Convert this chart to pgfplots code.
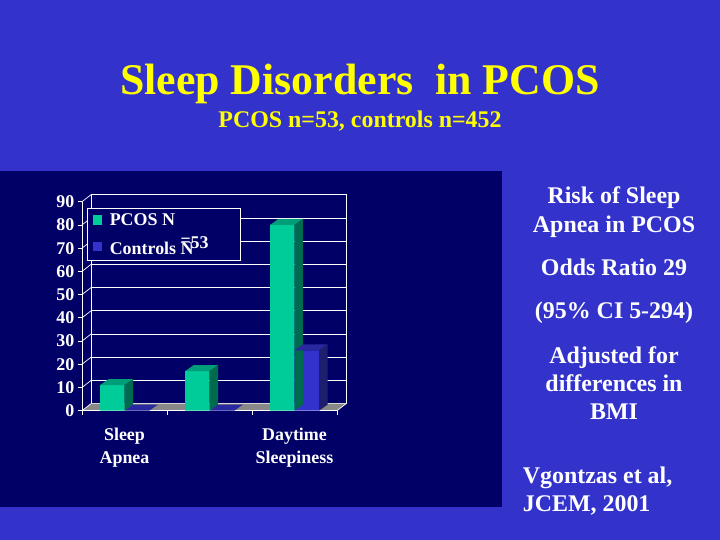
\documentclass[border=0pt]{standalone}
\usepackage{pgfplots}
\usepackage{pgfplotstable}
\pgfplotsset{compat=1.18}
\usepackage{fontspec}
\setmainfont{Liberation Serif}
\definecolor{slidebg}{HTML}{3333CC}
\definecolor{navy}{HTML}{000066}
\definecolor{pcos}{HTML}{00CC99}
\definecolor{pcostop}{HTML}{009E78}
\definecolor{pcosside}{HTML}{006A4E}
\definecolor{ctrl}{HTML}{3333CC}
\definecolor{ctrltop}{HTML}{2828A0}
\definecolor{ctrlside}{HTML}{1E1E6E}
\definecolor{floorgrey}{HTML}{888888}
\definecolor{titley}{HTML}{FFFF00}

\pgfplotstableread{
x v
1 11
2 17
3 80
}\pcosdata
\pgfplotstableread{
x v
1 0
2 0
3 26
}\ctrldata

% 3D top and side faces of a bar, drawn at the bar's top point (category centre)
\pgfdeclareplotmark{pcosbox}{%
  \pgfmathsetmacro\hh{\barh*2.322*1.00375}%
  \pgfsetfillcolor{pcostop}%
  \pgfpathmoveto{\pgfpoint{-24.5bp}{0bp}}%
  \pgfpathlineto{\pgfpoint{0bp}{0bp}}%
  \pgfpathlineto{\pgfpoint{8.5bp}{6bp}}%
  \pgfpathlineto{\pgfpoint{-16bp}{6bp}}%
  \pgfpathclose\pgfusepath{fill}%
  \pgfsetfillcolor{pcosside}%
  \pgfpathmoveto{\pgfpoint{0bp}{0bp}}%
  \pgfpathlineto{\pgfpoint{8.5bp}{6bp}}%
  \pgfpathlineto{\pgfpoint{8.5bp}{6bp-\hh pt}}%
  \pgfpathlineto{\pgfpoint{0bp}{-\hh pt}}%
  \pgfpathclose\pgfusepath{fill}%
}
\pgfdeclareplotmark{ctrlbox}{%
  \pgfmathsetmacro\hh{\barh*2.322*1.00375}%
  \pgfsetfillcolor{ctrltop}%
  \pgfpathmoveto{\pgfpoint{0bp}{0bp}}%
  \pgfpathlineto{\pgfpoint{24.5bp}{0bp}}%
  \pgfpathlineto{\pgfpoint{33bp}{6bp}}%
  \pgfpathlineto{\pgfpoint{8.5bp}{6bp}}%
  \pgfpathclose\pgfusepath{fill}%
  \pgfsetfillcolor{ctrlside}%
  \pgfpathmoveto{\pgfpoint{24.5bp}{0bp}}%
  \pgfpathlineto{\pgfpoint{33bp}{6bp}}%
  \pgfpathlineto{\pgfpoint{33bp}{6bp-\hh pt}}%
  \pgfpathlineto{\pgfpoint{24.5bp}{-\hh pt}}%
  \pgfpathclose\pgfusepath{fill}%
}

\newcommand\rt{\fontsize{24}{24}\selectfont\bfseries}
\newcommand\ct{\fontsize{18}{18}\selectfont\bfseries}

\begin{document}
\begin{tikzpicture}[x=1bp,y=1bp]
\fill[slidebg] (0,0) rectangle (720,540);
\useasboundingbox (0,0) rectangle (720,540);
\fill[navy] (0,33.3) rectangle (502,369);

% titles
\node[anchor=base, text=titley, font=\fontsize{44}{44}\selectfont\bfseries] at (360,445) {Sleep Disorders\ \ in PCOS};
\node[anchor=base, text=titley, font=\fontsize{24}{24}\selectfont\bfseries] at (360,412.3) {PCOS n=53, controls n=452};

% right-hand text
\node[anchor=base, text=white, font=\rt] at (614,336.7) {Risk of Sleep};
\node[anchor=base, text=white, font=\rt] at (614,307.3) {Apnea in PCOS};
\node[anchor=base, text=white, font=\rt] at (614,264) {Odds Ratio 29};
\node[anchor=base, text=white, font=\rt] at (614,221) {(95\% CI 5-294)};
\node[anchor=base, text=white, font=\rt] at (614,176.7) {Adjusted for};
\node[anchor=base, text=white, font=\rt] at (614,148.3) {differences in};
\node[anchor=base, text=white, font=\rt] at (614,120.7) {BMI};
\node[anchor=base west, text=white, font=\rt, inner sep=0pt] at (522.7,56.7) {Vgontzas et al,};
\node[anchor=base west, text=white, font=\rt, inner sep=0pt] at (522.7,28.3) {JCEM, 2001};

% back wall
\begin{axis}[
  at={(91bp,136.3bp)}, anchor=south west,
  x=85bp, y=2.322bp,
  xmin=0.5, xmax=3.5, ymin=0, ymax=90,
  axis line style={white, line width=0.8bp},
  xtick=\empty, ytick={0,10,...,90}, yticklabels={},
  major tick length=0pt,
  ymajorgrids, grid style={white, line width=0.7bp},
]
\addplot[draw=none, mark=none] coordinates {(1,0)};
\end{axis}

% floor and left wall edges
\fill[floorgrey] (82,129.3) -- (337,129.3) -- (346,136.3) -- (91,136.3) -- cycle;
\foreach \v in {0,10,...,90} \draw[white, line width=0.7bp] (82,{129.3+\v*2.322}) -- ++(9,7);
\draw[white, line width=0.7bp] (337,129.3) -- ++(9,7);

% front axis with bars
\begin{axis}[
  at={(82bp,129.3bp)}, anchor=south west,
  x=85bp, y=2.322bp,
  xmin=0.5, xmax=3.5, ymin=0, ymax=90,
  clip=false,
  axis lines*=left,
  axis line style={white, line width=0.8bp},
  tick style={white, line width=0.8bp},
  tick align=outside,
  major tick length=4.5bp, minor tick length=4.5bp,
  ytick={0,10,...,90},
  xtick={1,2,3},
  xticklabels={{Sleep\\Apnea},{},{Daytime\\Sleepiness}},
  minor xtick={0.5,1.5,2.5,3.5},
  major x tick style={draw=none},
  /pgf/number format/assume math mode=true,
  yticklabel style={font=\ct, text=white, inner sep=1bp, xshift=-2bp},
  xticklabel style={font=\fontsize{18}{23}\selectfont\bfseries, text=white, align=center, yshift=-9bp},
  legend style={at={(0.021,0.968)}, anchor=north west, fill=navy, draw=white,
    line width=0.8bp, text=white, font=\ct, inner xsep=5bp, inner ysep=4.5bp,
    row sep=10bp, nodes={inner sep=0pt}, cells={anchor=west}},
]
\addplot[ybar, bar width=24.5bp, bar shift=-12.25bp, fill=pcos, draw=none,
  legend image code/.code={\fill[pcos] (0bp,-4.7bp) rectangle (9bp,4.7bp);}]
  table[x=x, y=v] {\pcosdata};
\addlegendentry{\hspace*{8bp}\makebox[126bp][l]{PCOS N}}
\addplot[only marks, mark=pcosbox, forget plot,
  visualization depends on={\thisrow{v} \as \barh}]
  table[x=x, y=v] {\pcosdata};
\addplot[ybar, bar width=24.5bp, bar shift=12.25bp, fill=ctrl, draw=none,
  legend image code/.code={\fill[ctrl] (0bp,-4.7bp) rectangle (9bp,4.7bp);}]
  table[x=x, y=v] {\ctrldata};
\addlegendentry{\hspace*{8bp}\makebox[126bp][l]{Controls \rlap{\raisebox{8bp}{=}}N\kern-3bp\raisebox{6.3bp}{53}}}
\addplot[only marks, mark=ctrlbox, forget plot,
  visualization depends on={\thisrow{v} \as \barh}]
  table[x=x, y=v] {\ctrldata};
\end{axis}
\end{tikzpicture}
\end{document}
